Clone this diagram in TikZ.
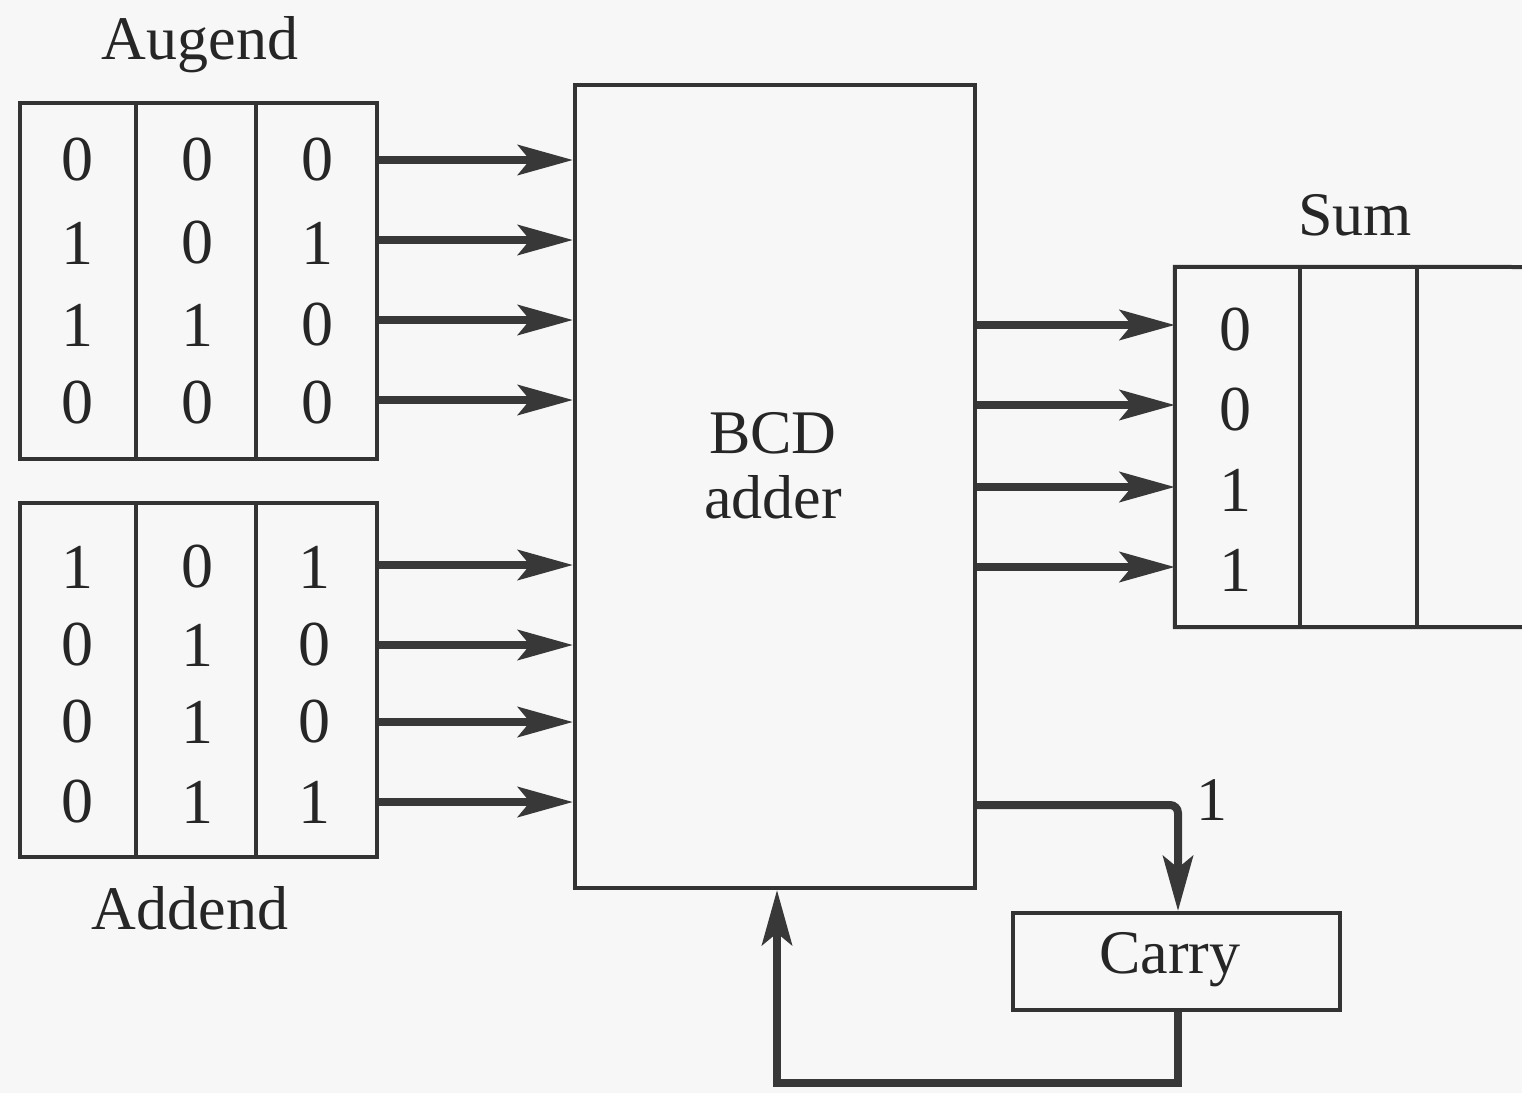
\documentclass[tikz,border=0pt]{standalone}
\usepackage{fontspec}
\setmainfont{Liberation Serif}
\usetikzlibrary{arrows.meta}
\begin{document}
\begin{tikzpicture}[x=1pt,y=-1pt,
  ink/.style={draw=black!80},
  box/.style={ink, line width=4pt},
  cell/.style={rectangle, inner sep=0pt},
  arr/.style={draw=black!78, line width=8pt,
    -{Stealth[length=55pt,width=30pt,inset=12pt]}},
  txt/.style={inner sep=0pt, text=black!85,
    font=\fontsize{62}{67}\selectfont},
  dig/.style={inner sep=0pt, text=black!85,
    font=\fontsize{64}{67}\selectfont}]
\useasboundingbox[fill=black!3] (0,0) rectangle (1522,1093);

% ---------- Augend register ----------
\node[txt] (auglbl) at (200,45) {Augend};
\node[cell, box, minimum width=357pt, minimum height=356pt] (aug) at (198.5,281) {};
\draw[box] (136,103) -- (136,459);
\draw[box] (256,103) -- (256,459);
\node[dig] (a11) at (77,160) {0};
\node[dig] (a12) at (197,160) {0};
\node[dig] (a13) at (317,160) {0};
\node[dig] (a21) at (77,243) {1};
\node[dig] (a22) at (197,243) {0};
\node[dig] (a23) at (317,243) {1};
\node[dig] (a31) at (77,325) {1};
\node[dig] (a32) at (197,325) {1};
\node[dig] (a33) at (317,325) {0};
\node[dig] (a41) at (77,403) {0};
\node[dig] (a42) at (197,403) {0};
\node[dig] (a43) at (317,403) {0};

% ---------- Addend register ----------
\node[cell, box, minimum width=357pt, minimum height=354pt] (add) at (198.5,680) {};
\draw[box] (136,503) -- (136,857);
\draw[box] (256,503) -- (256,857);
\node[txt] (addlbl) at (190,908) {Addend};
\node[dig] (b11) at (77,567) {1};
\node[dig] (b12) at (197,567) {0};
\node[dig] (b13) at (314,567) {1};
\node[dig] (b21) at (77,645) {0};
\node[dig] (b22) at (197,645) {1};
\node[dig] (b23) at (314,645) {0};
\node[dig] (b31) at (77,722) {0};
\node[dig] (b32) at (197,722) {1};
\node[dig] (b33) at (314,722) {0};
\node[dig] (b41) at (77,802) {0};
\node[dig] (b42) at (197,802) {1};
\node[dig] (b43) at (314,802) {1};

% ---------- BCD adder ----------
\node[cell, box, minimum width=400pt, minimum height=803pt] (bcd) at (775,486.5) {};
\node[txt, align=center] (bcdtxt) at (773,466) {BCD\\[-2pt]adder};

% ---------- Sum register ----------
\node[txt] (sumlbl) at (1355,215) {Sum};
\node[cell, minimum width=125pt, minimum height=360pt] (sumcol) at (1237.5,447) {};
\draw[box] (1524,267) -- (sumcol.north west) -- (sumcol.south west) -- (1524,627);
\draw[box] (1300,267) -- (1300,627);
\draw[box] (1417,267) -- (1417,627);
\node[dig] (s1) at (1235,330) {0};
\node[dig] (s2) at (1235,410) {0};
\node[dig] (s3) at (1235,490) {1};
\node[dig] (s4) at (1235,570) {1};

% ---------- Carry ----------
\node[cell, box, minimum width=327pt, minimum height=97pt] (carry) at (1176.5,961.5) {};
\node[txt] (carrytxt) at (1170,960) {Carry};
\node[txt] (one) at (1212,800) {1};

% ---------- row coordinates ----------
\coordinate (r1) at (0,160);
\coordinate (r2) at (0,240);
\coordinate (r3) at (0,320);
\coordinate (r4) at (0,400);
\coordinate (r5) at (0,565);
\coordinate (r6) at (0,645);
\coordinate (r7) at (0,722);
\coordinate (r8) at (0,802);
\coordinate (o1) at (0,325);
\coordinate (o2) at (0,405);
\coordinate (o3) at (0,487);
\coordinate (o4) at (0,567);
\coordinate (cy) at (0,805);
\coordinate (cx) at (1178,0);
\coordinate (fb) at (0,1083);
\coordinate (fx) at (777,0);

% ---------- input arrows ----------
\foreach \r in {r1,r2,r3,r4}
  \draw[arr] (aug.east |- \r) -- (bcd.west |- \r);
\foreach \r in {r5,r6,r7,r8}
  \draw[arr] (add.east |- \r) -- (bcd.west |- \r);

% ---------- output arrows ----------
\foreach \r in {o1,o2,o3,o4}
  \draw[arr] (bcd.east |- \r) -- (sumcol.west |- \r);

% ---------- carry out and feedback ----------
\draw[arr, rounded corners=8pt] (bcd.east |- cy) -- (cx |- cy) -- (cx |- carry.north);
\draw[arr, line join=miter] (cx |- carry.south) -- (cx |- fb) -- (fx |- fb) -- (fx |- bcd.south);
\end{tikzpicture}
\end{document}
